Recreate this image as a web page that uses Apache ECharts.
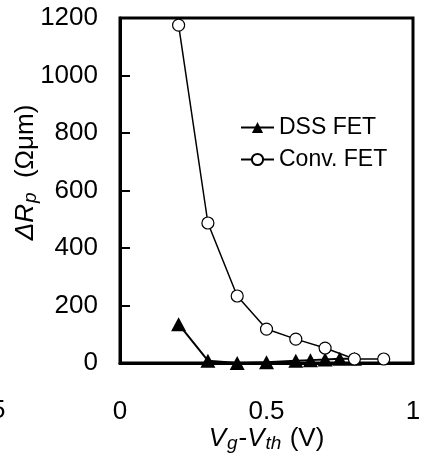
<!DOCTYPE html>
<html>
<head>
<meta charset="utf-8">
<script src="https://cdn.jsdelivr.net/npm/echarts@6/dist/echarts.min.js"></script>
<style>
  html, body { margin: 0; padding: 0; background: #fff; }
  #chart { width: 428px; height: 459px; }
</style>
</head>
<body>
<div id="chart"></div>
<script>
// Vg-Vth (V)
var dssX = [0.2, 0.3, 0.4, 0.5, 0.6, 0.65, 0.7, 0.75, 0.8];
var dssY = [135, 8, 0, 3, 8, 10, 12, 15, 15];
var convX = [0.2, 0.3, 0.4, 0.5, 0.6, 0.7, 0.8, 0.9];
var convY = [1175, 487, 233, 118, 83, 52, 14, 14];

function pairs(xs, ys) {
  var out = [];
  for (var i = 0; i < xs.length; i++) {
    out.push([xs[i], ys[i]]);
  }
  return out;
}

var myChart = echarts.init(document.getElementById("chart"));
var font = "Liberation Sans, Arial, sans-serif";

var option = {
  animation: false,
  textStyle: { fontFamily: font, color: "#000" },
  grid: {
    left: 120,
    top: 18,
    right: 15,
    bottom: 96,
    outerBoundsMode: "none",
    containLabel: false,
    show: true,
    borderColor: "#000",
    borderWidth: 3
  },
  legend: {
    orient: "vertical",
    left: 235,
    top: 111,
    itemWidth: 33,
    itemHeight: 14,
    itemGap: 9,
    textStyle: { fontSize: 23, color: "#000", fontFamily: font },
    data: ["DSS FET", "Conv. FET"]
  },
  xAxis: {
    type: "value",
    min: 0,
    max: 1,
    interval: 0.5,
    axisLine: { lineStyle: { color: "#000", width: 3 } },
    axisTick: { show: false },
    splitLine: { show: false },
    axisLabel: { fontSize: 26, color: "#000", margin: 36 },
    name: "{i|V}{s|g}{n|-}{i|V}{s|th}{n| (V)}",
    nameLocation: "middle",
    nameGap: 62,
    nameMoveOverlap: false,
    nameTextStyle: {
      rich: {
        i: { fontSize: 26, fontStyle: "italic", color: "#000", fontFamily: font },
        s: { fontSize: 19, fontStyle: "italic", color: "#000", fontFamily: font, padding: [9, 1, 0, 1] },
        n: { fontSize: 26, color: "#000", fontFamily: font }
      }
    }
  },
  yAxis: {
    type: "value",
    min: 0,
    max: 1200,
    interval: 200,
    axisLine: { show: true, lineStyle: { color: "#000", width: 3 } },
    axisTick: { show: true, inside: true, length: 10, lineStyle: { color: "#000", width: 2 } },
    splitLine: { show: false },
    axisLabel: {
      fontSize: 26,
      color: "#000",
      margin: 22,
      formatter: function (v) { return String(v); }
    },
    name: "{i|ΔR}{s|p}{n|  (Ωμm)}",
    nameLocation: "middle",
    nameRotate: 90,
    nameGap: 80,
    nameMoveOverlap: false,
    nameTextStyle: {
      padding: [0, 0, 0, 36],
      rich: {
        i: { fontSize: 26, fontStyle: "italic", color: "#000", fontFamily: font },
        s: { fontSize: 19, fontStyle: "italic", color: "#000", fontFamily: font, padding: [9, 0, 0, 1] },
        n: { fontSize: 26, color: "#000", fontFamily: font }
      }
    }
  },
  graphic: [{
    type: "text",
    left: -9,
    top: 398,
    style: { text: "5", fontSize: 26, fill: "#000", fontFamily: font }
  }],
  series: [{
    name: "DSS FET",
    type: "line",
    data: pairs(dssX, dssY),
    symbol: "triangle",
    symbolSize: [15, 14],
    itemStyle: { color: "#000" },
    lineStyle: { color: "#000", width: 2 },
    z: 2
  }, {
    name: "Conv. FET",
    type: "line",
    data: pairs(convX, convY),
    symbol: "circle",
    symbolSize: 12,
    itemStyle: { color: "#fff", borderColor: "#000", borderWidth: 1.2 },
    lineStyle: { color: "#000", width: 1.5 },
    z: 3
  }]
};

myChart.setOption(option);
</script>
</body>
</html>
